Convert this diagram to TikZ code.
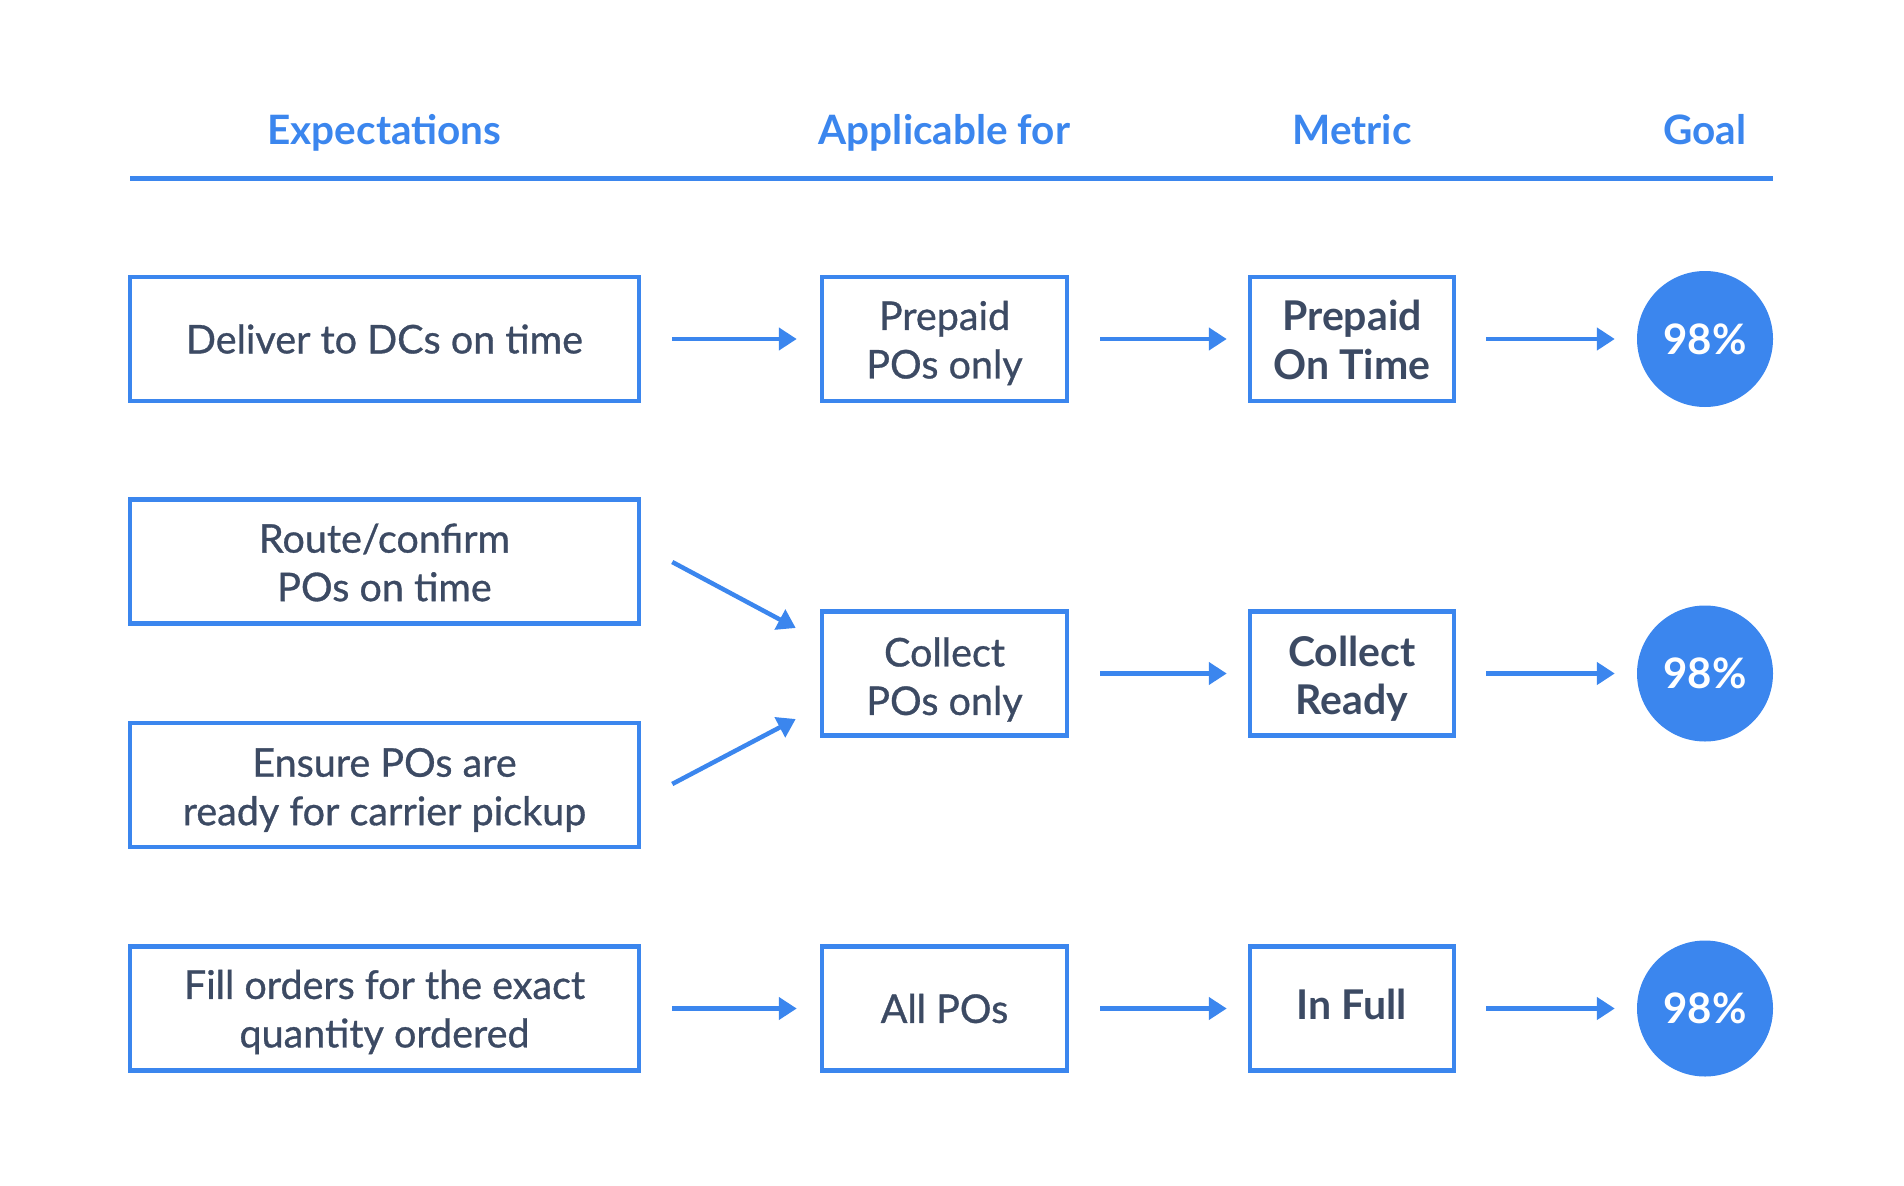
\documentclass[tikz,border=0pt]{standalone}
\usepackage{fontspec}
\setmainfont{Lato}
\newfontfamily\medfont[FakeBold=0.8]{Lato}
\usetikzlibrary{arrows.meta,calc}
\definecolor{bl}{HTML}{3B86EE}
\definecolor{tx}{HTML}{3C4A63}
\begin{document}
\begin{tikzpicture}[x=1pt,y=-1pt,
  hdr/.style={text=bl,font=\fontsize{40.5}{44}\selectfont\bfseries,anchor=base},
  bx/.style={draw=bl,line width=4.5pt,rectangle,minimum height=124pt,inner sep=0pt},
  tl/.style={inner sep=0pt,align=center,text=tx,font=\medfont\fontsize{39.5}{48.5}\selectfont},
  mtl/.style={tl,font=\fontsize{41}{48.5}\selectfont\bfseries},
  goal/.style={circle,fill=bl,minimum size=136pt,inner sep=0pt,text=white,font=\fontsize{42}{44}\selectfont\bfseries},
  arr/.style={draw=bl,line width=4.5pt,-{Triangle[length=18pt,width=22pt]}}
]
\useasboundingbox (0,0) rectangle (1904,1186);
\node[hdr] (h1) at (384.5,144.5) {Expectations};
\node[hdr] (h2) at (944.5,144.5) {Applicable for};
\node[hdr] (h3) at (1352,144.5) {Metric};
\node[hdr] (h4) at (1705,144.5) {Goal};
\coordinate (ls) at (130,178.5);
\coordinate (le) at (1773,178.5);
\draw[bl,line width=5pt] (ls) -- (le);

\node[bx,minimum width=509pt,label={[tl]center:Deliver to DCs on time}] (e1) at (384.5,339) {};
\node[bx,minimum width=509pt,label={[tl,yshift=-1pt]center:Route/confirm\\POs on time}] (e2) at (384.5,561.5) {};
\node[bx,minimum width=509pt,label={[tl,yshift=-5pt]center:Ensure POs are\\ready for carrier pickup}] (e3) at (384.5,785) {};
\node[bx,minimum width=509pt,label={[tl,yshift=-3.5pt]center:Fill orders for the exact\\quantity ordered}] (e4) at (384.5,1008.5) {};

\node[bx,minimum width=245pt,label={[tl,yshift=-4pt]center:Prepaid\\POs only}] (a1) at (944.5,339) {};
\node[bx,minimum width=245pt,label={[tl,yshift=-6pt]center:Collect\\POs only}] (a2) at (944.5,673.5) {};
\node[bx,minimum width=245pt,label={[tl]center:All POs}] (a3) at (944.5,1008.5) {};

\node[bx,minimum width=204pt,label={[mtl,yshift=-1pt]center:Prepaid\\On Time}] (m1) at (1352,339) {};
\node[bx,minimum width=204pt,label={[mtl,yshift=-5pt]center:Collect\\Ready}] (m2) at (1352,673.5) {};
\node[bx,minimum width=204pt,label={[mtl,yshift=4pt]center:In Full}] (m3) at (1352,1008.5) {};

\node[goal] (g1) at (1705,339) {98\%};
\node[goal] (g2) at (1705,673.5) {98\%};
\node[goal] (g3) at (1705,1008.5) {98\%};

\draw[arr,shorten <=31pt,shorten >=23pt] (e1) -- (a1);
\draw[arr,shorten <=31pt,shorten >=23pt] (e4) -- (a3);
\foreach \r in {1,2,3} {
  \draw[arr,shorten <=31pt,shorten >=21pt] (a\r) -- (m\r);
  \draw[arr,shorten <=30pt,shorten >=22pt] (m\r) -- (g\r);
}

\coordinate (d1s) at ($(e2.east)+(31,0.5)$);
\coordinate (d1e) at ($(a2.west)+(-24,-45.5)$);
\coordinate (d2s) at ($(e3.east)+(31,-1)$);
\coordinate (d2e) at ($(a2.west)+(-24,45.5)$);
\draw[arr] (d1s) -- (d1e);
\draw[arr] (d2s) -- (d2e);
\end{tikzpicture}
\end{document}
